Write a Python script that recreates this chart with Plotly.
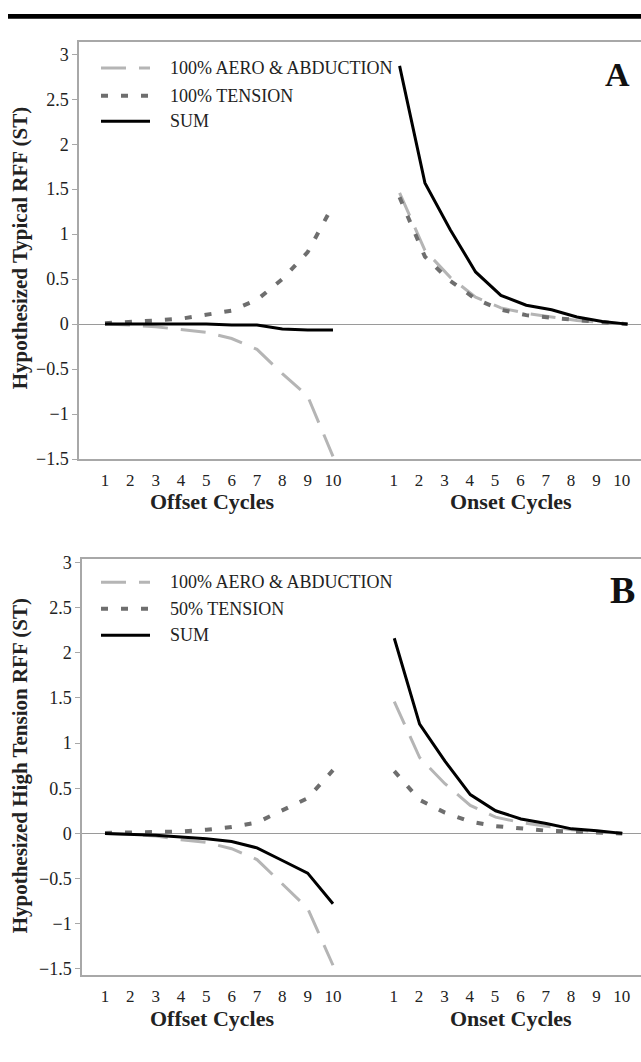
import plotly.graph_objects as go

W, H = 641, 1062

# ---------------- data ----------------
cycles = list(range(1, 11))
tick_labels = [str(c) for c in cycles]

A_aero_offset = [0.0, -0.01, -0.03, -0.06, -0.09, -0.16, -0.28, -0.55, -0.80, -1.47]
A_tension_offset = [0.01, 0.02, 0.04, 0.06, 0.10, 0.15, 0.27, 0.50, 0.80, 1.32]
A_sum_offset = [0.0, 0.0, 0.0, 0.0, 0.0, -0.01, -0.01, -0.055, -0.065, -0.065]
A_aero_onset = [1.46, 0.82, 0.52, 0.30, 0.18, 0.12, 0.08, 0.04, 0.02, 0.0]
A_tension_onset = [1.41, 0.75, 0.48, 0.28, 0.16, 0.10, 0.07, 0.04, 0.02, 0.0]
A_sum_onset = [2.87, 1.57, 1.05, 0.58, 0.32, 0.21, 0.16, 0.08, 0.03, 0.0]

B_aero_offset = [0.0, -0.01, -0.03, -0.07, -0.10, -0.17, -0.29, -0.56, -0.83, -1.46]
B_tension_offset = [0.005, 0.01, 0.01, 0.02, 0.04, 0.07, 0.12, 0.26, 0.39, 0.70]
B_sum_offset = [0.0, -0.01, -0.02, -0.04, -0.06, -0.09, -0.16, -0.30, -0.44, -0.78]
B_aero_onset = [1.46, 0.84, 0.55, 0.31, 0.18, 0.12, 0.08, 0.04, 0.02, 0.0]
B_tension_onset = [0.69, 0.37, 0.23, 0.13, 0.08, 0.05, 0.03, 0.02, 0.01, 0.0]
B_sum_onset = [2.16, 1.21, 0.80, 0.43, 0.25, 0.16, 0.11, 0.05, 0.03, 0.0]

legend_A = ["100% AERO & ABDUCTION", "100% TENSION", "SUM"]
legend_B = ["100% AERO & ABDUCTION", "50% TENSION", "SUM"]
ytitle_A = "Hypothesized Typical RFF (ST)"
ytitle_B = "Hypothesized High Tension RFF (ST)"
y_ticks = [-1.5, -1, -0.5, 0, 0.5, 1, 1.5, 2, 2.5, 3]

# ---------------- layout helpers ----------------
ONSET_TICK_SHIFT = 11.4
ONSET_DATA_SHIFT = {"A": 11.63, "B": 11.42}

FONT = "Liberation Serif"
AERO = dict(color="#b5b5b5", width=3, dash="25px,13px")
TENS = dict(color="#6e6e6e", width=4, dash="7px,13px")
SUM = dict(color="#000000", width=3)
AX = "#a8a8a8"


def px(x):
    return x / W


def py(y):
    return 1 - y / H


fig = go.Figure()

panels = [
    ("A", "x", "y", A_aero_offset, A_tension_offset, A_sum_offset,
     A_aero_onset, A_tension_onset, A_sum_onset),
    ("B", "x2", "y2", B_aero_offset, B_tension_offset, B_sum_offset,
     B_aero_onset, B_tension_onset, B_sum_onset),
]

for name, xa, ya, ao, to, so, an, tn, sn in panels:
    onset_x = [c + ONSET_DATA_SHIFT[name] for c in cycles]
    for xs, vals, style in [
        (cycles, ao, AERO), (cycles, to, TENS), (cycles, so, SUM),
        (onset_x, an, AERO), (onset_x, tn, TENS), (onset_x, sn, SUM),
    ]:
        fig.add_trace(go.Scatter(x=xs, y=vals, mode="lines", line=style,
                                 xaxis=xa, yaxis=ya, showlegend=False,
                                 hoverinfo="skip"))

tickvals = cycles + [c + ONSET_TICK_SHIFT for c in cycles]
ticktext = tick_labels + tick_labels

xcommon = dict(tickvals=tickvals, ticktext=ticktext, showline=True,
               linecolor=AX, linewidth=1.5, mirror=True, ticks="",
               showgrid=False, zeroline=False, ticklabelstandoff=5,
               tickfont=dict(family=FONT, size=17, color="#222"))
ycommon = dict(tickvals=y_ticks, showline=True, linecolor=AX, linewidth=1.5,
               ticks="outside", ticklen=5, tickcolor=AX, tickwidth=1,
               showgrid=False, zeroline=True, zerolinecolor="#9a9a9a",
               zerolinewidth=1.2,
               tickfont=dict(family=FONT, size=18, color="#222"))

fig.update_layout(
    width=W, height=H, margin=dict(l=0, r=0, t=0, b=0),
    paper_bgcolor="white", plot_bgcolor="white", showlegend=False,
    xaxis=dict(domain=[px(79), 1.0], range=[-0.026, 22.16], anchor="y", **xcommon),
    yaxis=dict(domain=[py(460), py(37)], range=[-1.5, 3.131], anchor="x", **ycommon),
    xaxis2=dict(domain=[px(82), 1.0], range=[0.092, 22.16], anchor="y2", **xcommon),
    yaxis2=dict(domain=[py(984), py(561)], range=[-1.570, 3.043], anchor="x2", **ycommon),
)

shapes = [dict(type="rect", xref="paper", yref="paper", x0=px(8), x1=1.0,
               y0=py(13), y1=py(8), fillcolor="black", line=dict(width=0))]
annotations = []

# manual legends
for labels, ys in [(legend_A, [63, 91, 117]), (legend_B, [585, 612, 639])]:
    for lab, yy, style in zip(labels, ys, [AERO, TENS, SUM]):
        shapes.append(dict(type="line", xref="paper", yref="paper",
                           x0=px(101), x1=px(150), y0=py(yy), y1=py(yy),
                           line=style))
        annotations.append(dict(xref="paper", yref="paper", x=px(168), y=py(yy),
                                text=lab, showarrow=False, xanchor="left",
                                yanchor="middle",
                                font=dict(family=FONT, size=18, color="#222")))

# panel letters
annotations.append(dict(xref="paper", yref="paper", x=px(617), y=py(70), text="<b>A</b>",
                        showarrow=False, xanchor="center", yanchor="middle",
                        font=dict(family=FONT, size=34, color="#111")))
annotations.append(dict(xref="paper", yref="paper", x=px(622), y=py(593), text="<b>B</b>",
                        showarrow=False, xanchor="center", yanchor="middle",
                        font=dict(family=FONT, size=38, color="#111")))

# axis titles
for txt, xx, yy in [("Offset Cycles", 212, 503), ("Onset Cycles", 511, 503),
                    ("Offset Cycles", 212, 1028), ("Onset Cycles", 511, 1028)]:
    annotations.append(dict(xref="paper", yref="paper", x=px(xx), y=py(yy),
                            text="<b>" + txt + "</b>", showarrow=False,
                            xanchor="center", yanchor="middle",
                            font=dict(family=FONT, size=22, color="#222")))
for txt, yy in [(ytitle_A, 246), (ytitle_B, 772)]:
    annotations.append(dict(xref="paper", yref="paper", x=px(20), y=py(yy),
                            text="<b>" + txt + "</b>", showarrow=False,
                            textangle=-90, xanchor="center", yanchor="middle",
                            font=dict(family=FONT, size=21, color="#222")))

fig.update_layout(shapes=shapes, annotations=annotations)
fig.write_html(
    "out.html",
    config={"displayModeBar": False, "responsive": False},
    post_script="document.documentElement.style.margin='0';"
                "document.body.style.margin='0';document.body.style.padding='0';"
                "document.body.style.overflow='hidden';",
)
